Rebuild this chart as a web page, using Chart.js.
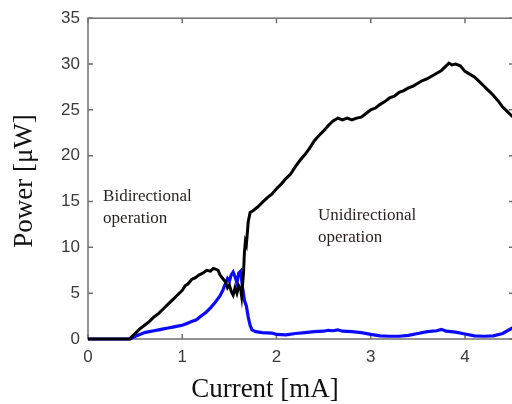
<!DOCTYPE html>
<html>
<head>
<meta charset="utf-8">
<script src="https://cdn.jsdelivr.net/npm/chart.js@4"></script>
<style>
  html, body { margin: 0; padding: 0; background: #fff; overflow: hidden; }
  #wrap { width: 516px; height: 404px; }
</style>
</head>
<body>
<div id="wrap"><canvas id="power-chart" width="516" height="404"></canvas></div>
<script>
// Black curve (total power)
const currentBlack = [0, 0.44, 0.46, 0.5, 0.55, 0.6, 0.65, 0.7, 0.75, 0.8, 0.85, 0.9, 0.95, 1.0, 1.03, 1.06, 1.1, 1.14,
    1.18, 1.22, 1.26, 1.3, 1.33, 1.36, 1.38, 1.4, 1.43, 1.46, 1.48, 1.5, 1.52, 1.54, 1.56, 1.58, 1.6, 1.62, 1.63,
    1.65, 1.66, 1.67, 1.68, 1.69, 1.7, 1.72, 1.75, 1.8, 1.85, 1.9, 1.95, 2.0, 2.05, 2.1, 2.15, 2.2, 2.25, 2.3,
    2.35, 2.4, 2.45, 2.5, 2.55, 2.6, 2.65, 2.7, 2.75, 2.8, 2.85, 2.9, 2.95, 3.0, 3.05, 3.1, 3.15, 3.2, 3.25, 3.3,
    3.35, 3.4, 3.45, 3.5, 3.55, 3.6, 3.65, 3.7, 3.75, 3.8, 3.83, 3.86, 3.9, 3.95, 4.0, 4.05, 4.1, 4.15, 4.2, 4.25,
    4.3, 4.35, 4.4, 4.45, 4.5, 4.55];
const powerBlack = [0, 0, 0.2, 0.6, 1.1, 1.5, 1.9, 2.4, 2.8, 3.3, 3.8, 4.3, 4.8, 5.3, 5.8, 6.0, 6.5, 6.7,
    7.0, 7.2, 7.5, 7.4, 7.7, 7.6, 7.5, 7.0, 6.6, 6.2, 5.6, 5.9, 5.2, 4.8, 5.6, 5.0, 5.8, 5.4, 4.7,
    7.2, 9.5, 10.6, 10.3, 11.5, 12.8, 13.8, 14.0, 14.4, 14.9, 15.4, 15.8, 16.4, 16.9, 17.5, 18.0, 18.8, 19.5, 20.1,
    20.8, 21.6, 22.2, 22.7, 23.3, 23.8, 24.1, 23.9, 24.1, 23.9, 24.1, 24.2, 24.6, 25.0, 25.2, 25.6, 25.9, 26.3, 26.5, 26.9,
    27.1, 27.4, 27.6, 27.9, 28.2, 28.4, 28.7, 29.0, 29.3, 29.8, 30.1, 29.9, 30.0, 29.8, 29.2, 28.9, 28.6, 28.1, 27.6, 27.1,
    26.6, 26.0, 25.3, 24.8, 24.3, 24.1];

// Blue curve
const currentBlue = [0, 0.45, 0.5, 0.55, 0.6, 0.65, 0.7, 0.75, 0.8, 0.85, 0.9, 0.95, 1.0, 1.05, 1.1, 1.15, 1.2, 1.25,
    1.3, 1.35, 1.4, 1.43, 1.46, 1.48, 1.5, 1.52, 1.54, 1.56, 1.58, 1.6, 1.62, 1.64, 1.66, 1.68, 1.7, 1.72, 1.74,
    1.78, 1.85, 1.95, 2.0, 2.1, 2.2, 2.3, 2.4, 2.5, 2.55, 2.6, 2.65, 2.7, 2.8, 2.9, 3.0, 3.1, 3.2, 3.3, 3.4, 3.5,
    3.6, 3.7, 3.75, 3.8, 3.9, 4.0, 4.1, 4.2, 4.3, 4.4, 4.5, 4.55];
const powerBlue = [0, 0, 0.3, 0.5, 0.7, 0.8, 0.9, 1.0, 1.1, 1.2, 1.3, 1.4, 1.5, 1.7, 1.9, 2.1, 2.5, 2.9,
    3.4, 4.0, 4.7, 5.3, 6.1, 6.6, 6.3, 7.0, 7.3, 6.8, 6.1, 7.2, 7.4, 5.6, 4.2, 3.6, 2.4, 1.5, 1.0,
    0.8, 0.7, 0.65, 0.5, 0.45, 0.6, 0.7, 0.8, 0.85, 0.95, 0.9, 1.0, 0.85, 0.8, 0.7, 0.5, 0.35, 0.3, 0.3, 0.4, 0.6,
    0.8, 0.9, 1.05, 0.85, 0.75, 0.55, 0.35, 0.3, 0.35, 0.6, 1.2, 1.3];

// Ticks
const xTicks = [0, 1, 2, 3, 4];
const yTicks = [0, 5, 10, 15, 20, 25, 30, 35];

// Text notes inside the plot (data coordinates of the first line's left/baseline)
const noteLines = [['Bidirectional', 'operation'], ['Unidirectional', 'operation']];
const noteX = [0.16, 2.44];
const noteY = [15.05, 13.0];

const toPoints = (xs, ys) => xs.map((x, i) => ({ x: x, y: ys[i] }));

// Frame with inward ticks, axis titles and notes
const framePlugin = {
    id: 'frame',
    beforeDatasetsDraw(chart) {
        const c = chart.ctx, a = chart.chartArea;
        const sx = chart.scales.x, sy = chart.scales.y;
        c.save();
        c.strokeStyle = '#707070';
        c.lineWidth = 1.5;
        c.strokeRect(a.left, a.top, a.right - a.left, a.bottom - a.top);
        c.beginPath();
        xTicks.forEach(v => {
            const px = sx.getPixelForValue(v);
            c.moveTo(px, a.bottom); c.lineTo(px, a.bottom - 5);
            c.moveTo(px, a.top); c.lineTo(px, a.top + 5);
        });
        yTicks.forEach(v => {
            const py = sy.getPixelForValue(v);
            c.moveTo(a.left, py); c.lineTo(a.left + 5, py);
            c.moveTo(a.right, py); c.lineTo(a.right - 5, py);
        });
        c.stroke();
        c.restore();
    },
    afterDraw(chart) {
        const c = chart.ctx;
        const sx = chart.scales.x, sy = chart.scales.y;
        c.save();
        c.fillStyle = '#2a1f1f';
        c.font = '17px "Liberation Serif", "Times New Roman", serif';
        c.textAlign = 'left';
        c.textBaseline = 'alphabetic';
        noteLines.forEach((lines, i) => {
            const px = sx.getPixelForValue(noteX[i]);
            const py = sy.getPixelForValue(noteY[i]);
            lines.forEach((t, j) => c.fillText(t, px, py + j * 22));
        });
        c.fillStyle = '#111';
        c.font = '27px "Liberation Serif", "Times New Roman", serif';
        c.textAlign = 'center';
        c.fillText('Current [mA]', 265, 397);
        c.translate(32, 181);
        c.rotate(-Math.PI / 2);
        c.fillText('Power [\u03bcW]', 0, 0);
        c.restore();
    }
};

const tickFont = { family: '"Liberation Sans", Arial, sans-serif', size: 17 };

const ctx = document.getElementById('power-chart').getContext('2d');
const chart = new Chart(ctx, {
    type: 'line',
    data: {
        datasets: [{
            label: 'Total',
            data: toPoints(currentBlack, powerBlack),
            borderColor: '#000000',
            borderWidth: 3,
            pointRadius: 0,
            tension: 0,
            clip: 4
        }, {
            label: 'Blue',
            data: toPoints(currentBlue, powerBlue),
            borderColor: '#0a0aff',
            borderWidth: 3.2,
            pointRadius: 0,
            tension: 0,
            clip: 4
        }]
    },
    options: {
        responsive: false,
        animation: false,
        layout: { padding: { left: 0, top: 16, right: 2, bottom: 0 } },
        plugins: {
            legend: { display: false },
            tooltip: { enabled: false }
        },
        scales: {
            x: {
                type: 'linear',
                min: 0,
                max: 4.52,
                afterBuildTicks: s => { s.ticks = xTicks.map(v => ({ value: v })); },
                afterFit: s => { s.height = 65; },
                grid: { display: false, drawTicks: false },
                border: { display: false },
                ticks: { font: tickFont, color: '#3a3a3a', padding: 8 }
            },
            y: {
                min: 0,
                max: 35,
                afterBuildTicks: s => { s.ticks = yTicks.map(v => ({ value: v })); },
                afterFit: s => { s.width = 88; },
                grid: { display: false, drawTicks: false },
                border: { display: false },
                ticks: { font: tickFont, color: '#3a3a3a', padding: 8 }
            }
        }
    },
    plugins: [framePlugin]
});
</script>
</body>
</html>
